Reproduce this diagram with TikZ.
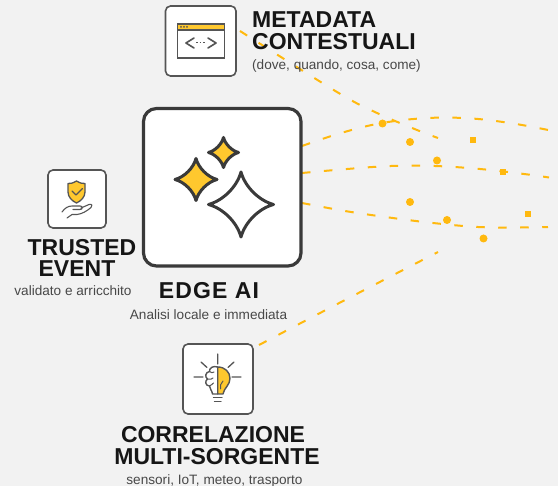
\documentclass[tikz,border=0pt]{standalone}
\usepackage{fontspec}
\setmainfont{Liberation Sans}
\definecolor{bgc}{HTML}{F2F2F2}
\definecolor{gold}{HTML}{FFB90F}
\definecolor{fillgold}{HTML}{FFC82E}
\definecolor{ink}{HTML}{3A3A3A}
\definecolor{boxline}{HTML}{555555}
\definecolor{titlec}{HTML}{161616}
\definecolor{subc}{HTML}{484848}
\newcommand{\fsz}[1]{\fontsize{#1}{#1}\selectfont}
\newcommand{\sparklepath}[3]{(#1,#2-#3) .. controls (#1+.12*#3,#2-.55*#3) and (#1+.55*#3,#2-.12*#3) .. (#1+#3,#2)
 .. controls (#1+.55*#3,#2+.12*#3) and (#1+.12*#3,#2+.55*#3) .. (#1,#2+#3)
 .. controls (#1-.12*#3,#2+.55*#3) and (#1-.55*#3,#2+.12*#3) .. (#1-#3,#2)
 .. controls (#1-.55*#3,#2-.12*#3) and (#1-.12*#3,#2-.55*#3) .. cycle}
\tikzset{
 flow/.style={draw=gold,line width=2pt,dash pattern=on 8.5pt off 13.5pt,smooth,tension=.6},
 card/.style={draw=boxline,line width=1.6pt,fill=white,rounded corners=5pt},
 bigcard/.style={draw=ink,line width=3.2pt,fill=white,rounded corners=13pt},
 dot/.style={circle,fill=gold,inner sep=0pt,minimum size=8pt},
 sq/.style={rectangle,fill=gold,inner sep=0pt,minimum size=6.5pt},
 ttl/.style={inner sep=0pt,text=titlec,font=\fsz{23}\bfseries},
 sub/.style={inner sep=0pt,text=subc,font=\fsz{13.6}},
 icon/.style={draw=boxline,line width=1.6pt,line cap=round,line join=round},
 star/.style={draw=ink,line width=3pt,line join=round},
}
\begin{document}
\begin{tikzpicture}[x=1pt,y=-1pt]
\useasboundingbox[fill=bgc] (0,0) rectangle (558,486);
% dashed flows
\draw[flow] plot coordinates {(240,31) (337,92) (377,113) (417,130) (438,138)};
\draw[flow] plot coordinates {(302,146) (341,133) (382,123) (428,118) (472,118.5) (516,124) (558,132)};
\draw[flow] plot coordinates {(302,173) (347,169) (391,166) (435,166) (480,169) (524,174) (549,177.5)};
\draw[flow] plot coordinates {(302,203) (345,211) (389,217.5) (433,223) (478,227) (522,227.5) (548,227)};
\draw[flow] plot coordinates {(259,345) (345,300) (438,252)};
% markers
\foreach \n/\x/\y in {a/382.5/123.5,b/410/142,c/437/160.5,d/410/202,e/447/220,f/483.5/238.5}
  \node[dot] (dot\n) at (\x,\y) {};
\foreach \n/\x/\y in {a/473/140,b/503/172,c/528/214}
  \node[sq] (sq\n) at (\x,\y) {};
% metadata card
\draw[card] (165.5,6) rectangle (236,76);
\fill[fillgold] (177.5,24) rectangle (224.5,30);
\draw[icon,line cap=butt,line join=miter] (177.5,24) rectangle (224.5,58) (177.5,30) -- (224.5,30);
\foreach \x in {181,184,187}\fill[boxline] (\x,27) circle (1);
\draw[icon] (194,38) -- (186,43) -- (194,48) (208,38) -- (216,43) -- (208,48);
\draw[icon,line width=1pt,dash pattern=on 1.5pt off 2pt,line cap=butt] (196,43) -- (206,43);
% edge AI card
\draw[bigcard] (143.5,108.5) rectangle (301,266);
\draw[star,fill=white] \sparklepath{241}{204.5}{32.5};
\draw[star,fill=fillgold] \sparklepath{196}{179.5}{21};
\draw[star,fill=fillgold] \sparklepath{223.5}{152.5}{15};
% trusted card
\draw[card] (48,170) rectangle (106,228);
\draw[icon,fill=fillgold,line width=1.3pt] (76.5,181) .. controls (72,183.5) and (71,183.5) .. (68,183.5) -- (68,192)
 .. controls (68,197) and (72,201) .. (76.5,203) .. controls (81,201) and (85,197) .. (85,192) -- (85,183.5)
 .. controls (82,183.5) and (81,183.5) .. (76.5,181) -- cycle;
\draw[icon,line width=1.3pt] (72,191) -- (76,195) -- (82.5,188.5);
\draw[icon,line width=1.1pt] (62,212) .. controls (65,208) and (68,206) .. (72,206) -- (80,206) .. controls (83,206) and (83,209.5) .. (80,209.5) -- (73,209.5)
 (81,208) -- (89,204.5) .. controls (92,203.5) and (93,206) .. (91,207.5) .. controls (87,211) and (82,214) .. (77,214.5) -- (72,214.5) -- (67,218);
% correlation card
\draw[card] (183,344) rectangle (253,414);
\draw[icon,line width=1.3pt] (217.7,354) -- (217.7,364) (201,362) -- (207,367.5) (234,362) -- (228,367.5)
 (194,377) -- (203,377) (232,377) -- (241,377);
\fill[fillgold] (217.7,367) .. controls (225,367) and (230,372) .. (230,378.5) .. controls (230,385) and (224,388) .. (223,394) -- (217.7,394) -- cycle;
\draw[icon,line width=1.4pt] (217.7,367) .. controls (225,367) and (230,372) .. (230,378.5) .. controls (230,385) and (224,388) .. (223,394) -- (217.7,394) -- (217.7,367);
\draw[icon,line width=1.4pt] (217.7,367) .. controls (213,365.5) and (209,368) .. (209.5,371.5) .. controls (205.5,372) and (204.5,377) .. (207.5,379)
 .. controls (204.5,381) and (205.5,386) .. (209.5,386) .. controls (209.5,389) and (212,390) .. (212.5,394) -- (217.7,394);
\draw[icon,line width=1pt] (209.5,371.5) .. controls (211,373) and (213,373) .. (214,372) (207.5,379) .. controls (210,380) and (212,379) .. (213,378) (209.5,386) .. controls (211,385) and (213,384) .. (213.5,383)
 (223,381) -- (220.5,385) -- (220.5,389);
\draw[icon,line width=1.4pt] (213.5,397.5) -- (222,397.5) (214.5,401.5) -- (221,401.5);
% texts
\node[ttl,anchor=base west] (t1) at (252,28) {METADATA};
\node[ttl,anchor=base west] (t2) at (252,50) {CONTESTUALI};
\node[sub,anchor=base west] (t3) at (252,69.5) {(dove, quando, cosa, come)};
\node[ttl,anchor=base] (t4) at (209,299) {\addfontfeature{LetterSpace=5}EDGE AI};
\node[sub,anchor=base] (t5) at (208.5,320) {Analisi locale e immediata};
\node[ttl,anchor=base] (t6) at (82,256) {TRUSTED};
\node[ttl,anchor=base] (t7) at (77,277) {EVENT};
\node[sub,anchor=base] (t8) at (73,295.5) {validato e arricchito};
\node[ttl,anchor=base] (t9) at (213,443) {CORRELAZIONE};
\node[ttl,anchor=base] (t10) at (217,465) {MULTI-SORGENTE};
\node[sub,anchor=base] (t11) at (214.5,484.5) {sensori, IoT, meteo, trasporto};
\end{tikzpicture}
\end{document}
